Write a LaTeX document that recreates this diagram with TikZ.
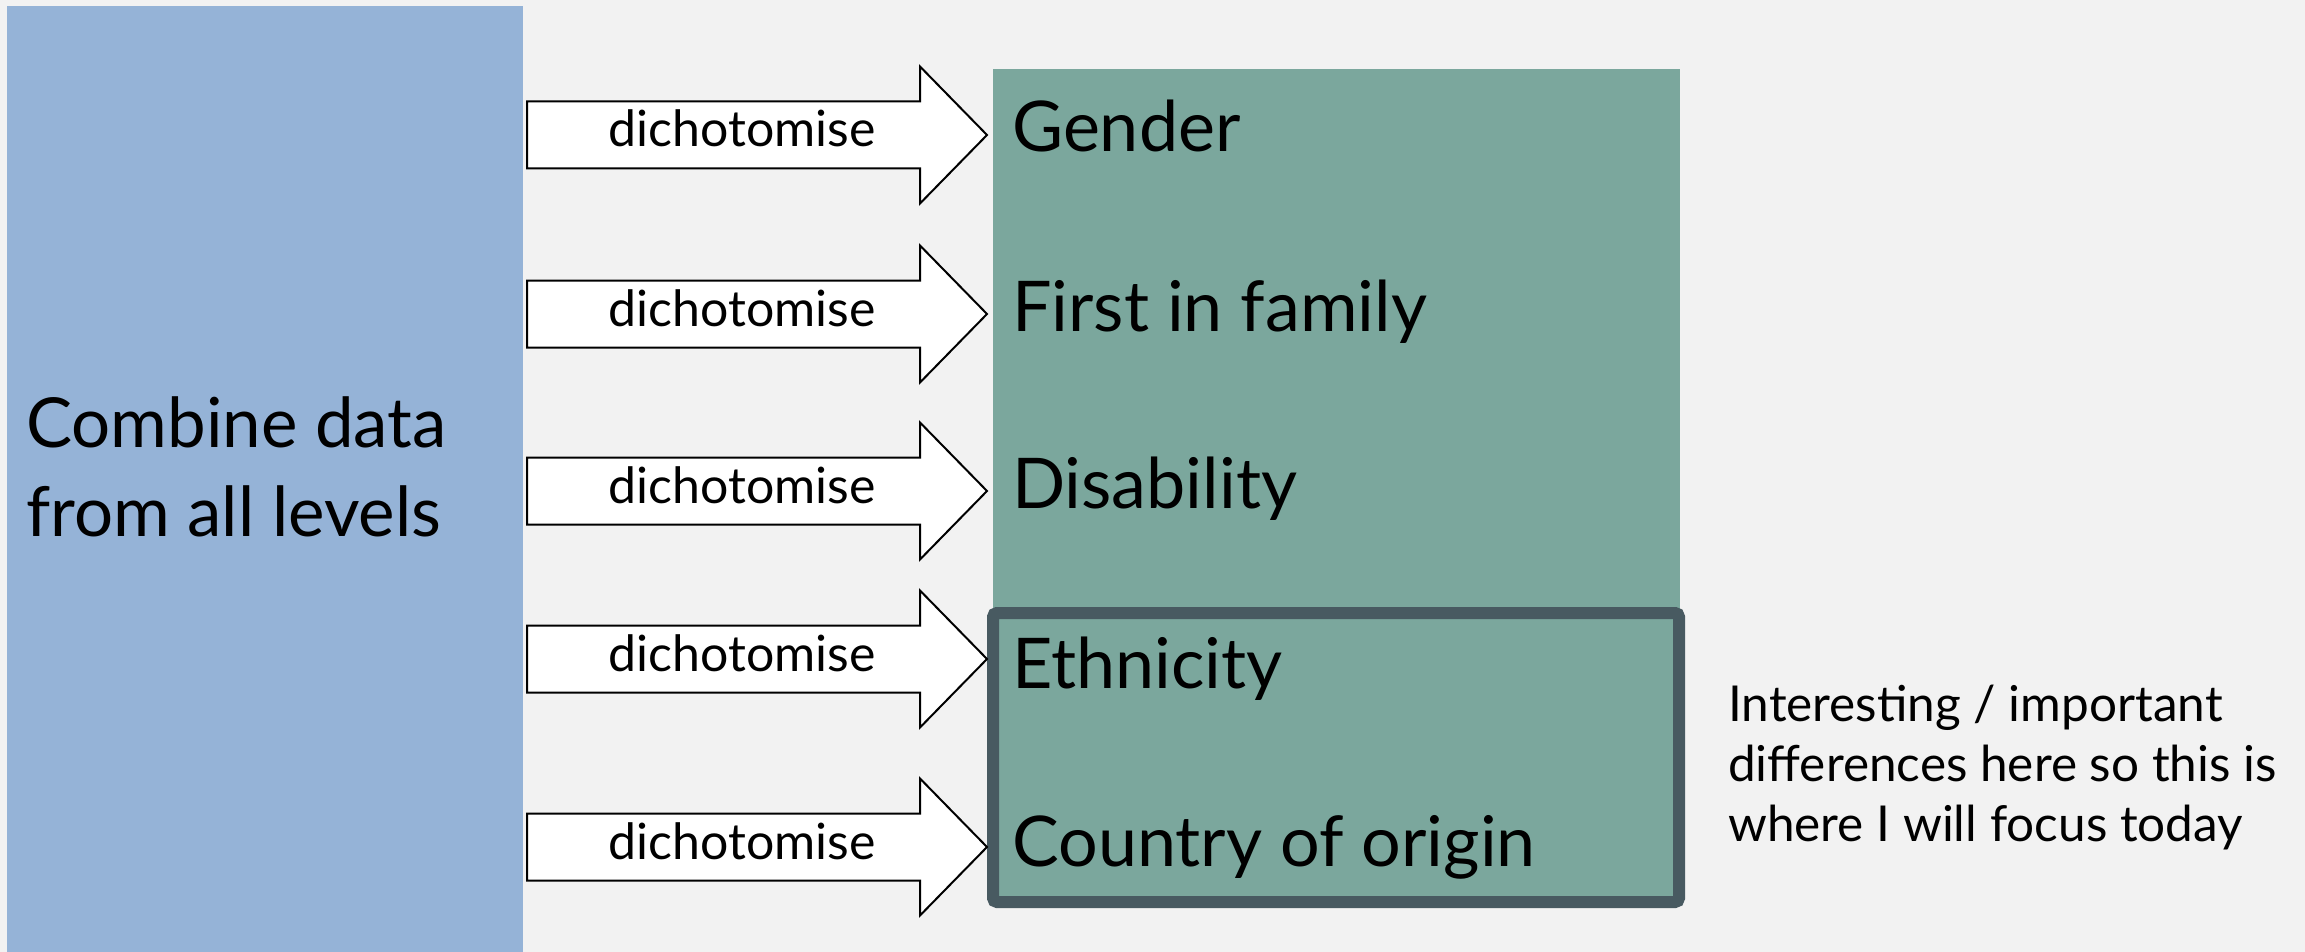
\documentclass[tikz,border=0pt]{standalone}
\usepackage{fontspec}
\setmainfont{Lato}
\definecolor{bgc}{RGB}{242,242,242}
\definecolor{bluec}{RGB}{149,179,215}
\definecolor{greenc}{RGB}{123,167,157}
\definecolor{darkc}{RGB}{72,90,97}
\tikzset{
  arrowshape/.style={draw=black, fill=white, line width=2pt, line join=miter},
  arrowlabel/.style={anchor=base, inner sep=0pt, font=\fontsize{50}{56}\selectfont},
  catlabel/.style={anchor=base west, inner sep=0pt, font=\fontsize{70}{80}\selectfont},
}
\begin{document}
\begin{tikzpicture}[x=1pt, y=-1pt]
\fill[bgc] (0,0) rectangle (2305,952);
\useasboundingbox (0,0) rectangle (2305,952);
% left box
\fill[bluec] (7,6) rectangle (523,952);
\node[anchor=base west, inner sep=0pt, align=left, font=\fontsize{69}{89}\selectfont] (combine) at (26,536) {Combine data\\from all levels};
% green box
\fill[greenc] (993,69) rectangle (1680,902);
\draw[darkc, line width=12pt, rounded corners=4pt] (993,613) rectangle (1679,902);
% arrows and labels
\foreach \yy/\bl/\lab [count=\i] in {135/152/Gender, 314/331/First in family, 491/508/Disability, 659/688/Ethnicity, 847/866/Country of origin}{
  \draw[arrowshape] (527,\yy-33.5) -- (920,\yy-33.5) -- (920,\yy-68.5) -- (987,\yy) -- (920,\yy+68.5) -- (920,\yy+33.5) -- (527,\yy+33.5) -- cycle;
  \node[arrowlabel] (d\i) at (742,\yy+12) {dichotomise};
  \node[catlabel] (c\i) at (1012,\bl) {\lab};
}
% note
\node[anchor=base west, inner sep=0pt, align=left, font=\fontsize{49.5}{60}\selectfont] (note) at (1728,841) {Interesting / important\\differences here so this is\\where I will focus today};
\end{tikzpicture}
\end{document}
